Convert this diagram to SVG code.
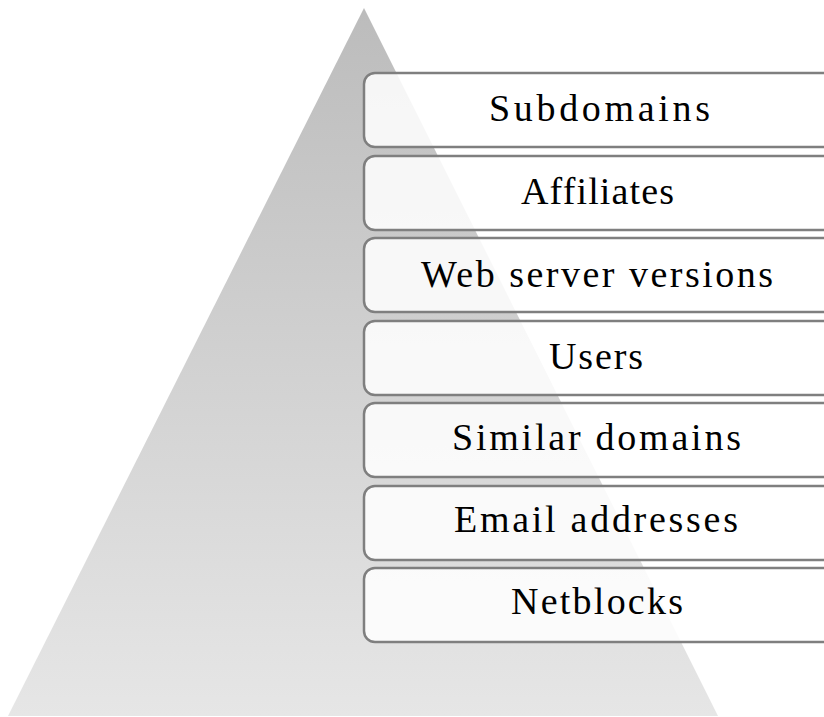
<svg xmlns="http://www.w3.org/2000/svg" width="824" height="717" viewBox="0 0 824 717">
<defs>
<linearGradient id="tri" x1="0" y1="0" x2="0" y2="1">
<stop offset="0" stop-color="#bcbcbc"/>
<stop offset="1" stop-color="#e6e6e6"/>
</linearGradient>
<style>
.box{fill:#ffffff;fill-opacity:0.86;stroke:#7f7f7f;stroke-width:2.5}
.lbl{font-family:"Liberation Serif","Times New Roman",serif;font-size:38px;fill:#000000}
</style>
</defs>
<rect x="0" y="0" width="824" height="717" fill="#ffffff"/>
<polygon id="pyramid" points="364,8 8,716 718,716" fill="url(#tri)"/>
<g id="connectors"></g>
<g id="n1"><rect class="box" x="364" y="73" width="470" height="74" rx="11"/><text class="lbl" x="489" y="121" textLength="221" lengthAdjust="spacing">Subdomains</text></g>
<g id="n2"><rect class="box" x="364" y="156" width="470" height="74" rx="11"/><text class="lbl" x="521" y="204" textLength="153" lengthAdjust="spacing">Affiliates</text></g>
<g id="n3"><rect class="box" x="364" y="238" width="470" height="74" rx="11"/><text class="lbl" x="421" y="287" textLength="352" lengthAdjust="spacing">Web server versions</text></g>
<g id="n4"><rect class="box" x="364" y="321" width="470" height="74" rx="11"/><text class="lbl" x="549" y="369" textLength="94" lengthAdjust="spacing">Users</text></g>
<g id="n5"><rect class="box" x="364" y="403" width="470" height="74" rx="11"/><text class="lbl" x="452" y="450" textLength="289" lengthAdjust="spacing">Similar domains</text></g>
<g id="n6"><rect class="box" x="364" y="486" width="470" height="74" rx="11"/><text class="lbl" x="454" y="532" textLength="284" lengthAdjust="spacing">Email addresses</text></g>
<g id="n7"><rect class="box" x="364" y="568" width="470" height="74" rx="11"/><text class="lbl" x="511" y="614" textLength="172" lengthAdjust="spacing">Netblocks</text></g>
</svg>
